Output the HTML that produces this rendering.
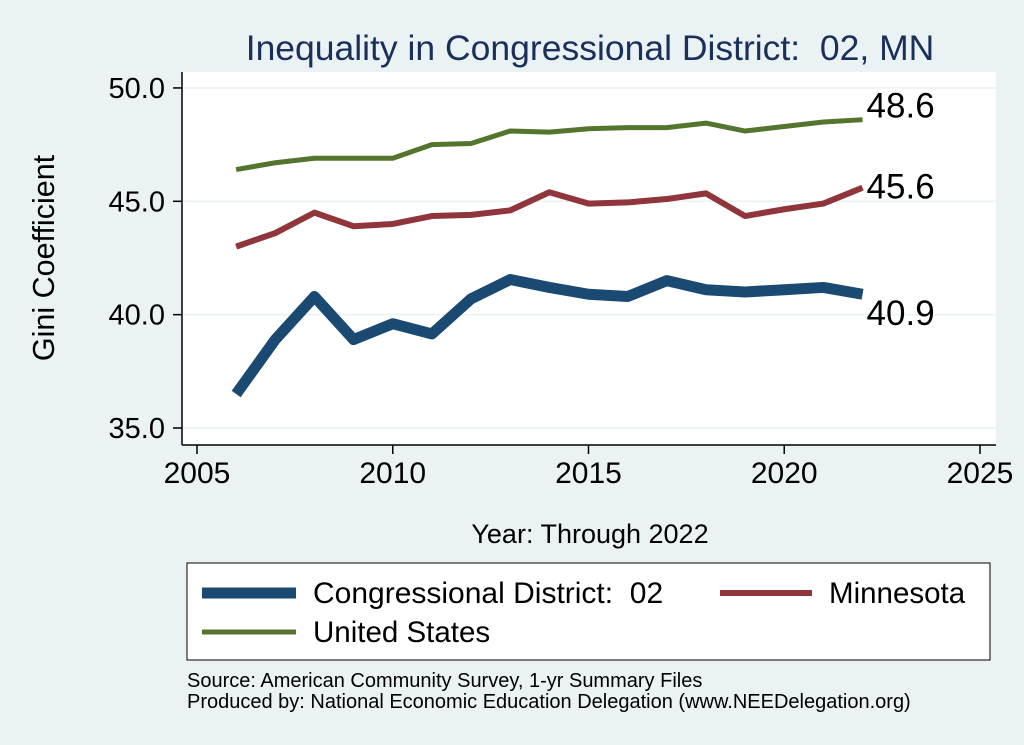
<!DOCTYPE html>
<html><head><meta charset="utf-8"><style>
body{margin:0;background:#eaf2f3;}
svg{display:block;font-family:"Liberation Sans",sans-serif;}
</style></head><body>
<svg id="c" width="1024" height="745">
<rect x="0" y="0" width="1024" height="745" fill="#eaf2f3"/>
<rect x="182" y="72" width="814" height="373" fill="#fff"/>
<text x="590" y="60" font-size="35.5" fill="#1a2f5a" text-anchor="middle">Inequality in Congressional District:&#160; 02, MN</text>
<g id="grid"></g><g id="axes"></g><g id="series"></g>
<text transform="translate(54,258) rotate(-90)" font-size="30.5" text-anchor="middle">Gini Coefficient</text>
<text x="590" y="543" font-size="27" text-anchor="middle">Year: Through 2022</text>
<g>
<rect x="187" y="563" width="803" height="97" fill="#fff" stroke="#000" stroke-width="1"/>
<line x1="202" y1="593" x2="296" y2="593" stroke="#1a4a72" stroke-width="11"/>
<text x="313" y="603" font-size="30">Congressional District:&#160; 02</text>
<line x1="720" y1="593" x2="812" y2="593" stroke="#90353b" stroke-width="6"/>
<text x="829" y="603" font-size="29.5">Minnesota</text>
<line x1="202" y1="632" x2="296" y2="632" stroke="#55752f" stroke-width="5"/>
<text x="313" y="642" font-size="29.5">United States</text>
</g>
<text x="187" y="687" font-size="20">Source: American Community Survey, 1-yr Summary Files</text>
<text x="187" y="708" font-size="20">Produced by: National Economic Education Delegation (www.NEEDelegation.org)</text>
</svg>
<script>
const years=[2006,2007,2008,2009,2010,2011,2012,2013,2014,2015,2016,2017,2018,2019,2020,2021,2022];
const cd02=[36.5,38.9,40.8,38.9,39.6,39.15,40.7,41.55,41.2,40.9,40.8,41.5,41.1,41.0,41.1,41.2,40.9];
const mn=[43.0,43.6,44.5,43.9,44.0,44.35,44.4,44.6,45.4,44.9,44.95,45.1,45.35,44.35,44.65,44.9,45.6];
const us=[46.4,46.7,46.9,46.9,46.9,47.5,47.55,48.1,48.05,48.2,48.25,48.25,48.45,48.1,48.3,48.5,48.6];
const yTicks=[35,40,45,50];
const xTicks=[2005,2010,2015,2020,2025];
const NS="http://www.w3.org/2000/svg";
const X=v=>197+(v-2005)*39.15;
const Y=v=>428-(v-35)*22.67;
function mk(tag,attrs,parent){const e=document.createElementNS(NS,tag);for(const k in attrs)e.setAttribute(k,attrs[k]);document.getElementById(parent).appendChild(e);return e;}
yTicks.forEach(t=>{
 const g=mk('line',{x1:182,x2:996,y1:Y(t),y2:Y(t),stroke:'#eaf2f3','stroke-width':1.5},'grid');
 
 
 const tk=mk('line',{x1:173,x2:182,y1:Y(t),y2:Y(t),stroke:'#000','stroke-width':1.5},'axes');
 
 
 const l=mk('text',{x:165,y:Y(t)+10,'font-size':29,'text-anchor':'end'},'axes');
 l.textContent=t.toFixed(1);
 
 
});
xTicks.forEach(t=>{
 const tk=mk('line',{x1:X(t),x2:X(t),y1:445,y2:454,stroke:'#000','stroke-width':1.5},'axes');
 
 
 const l=mk('text',{x:X(t),y:483,'font-size':30,'text-anchor':'middle'},'axes');
 l.textContent=t;
 
 
});
const ya=mk('line',{x1:182,x2:182,y1:72,y2:445,stroke:'#000','stroke-width':1.5},'axes');


const xa=mk('line',{x1:182,x2:996,y1:445,y2:445,stroke:'#000','stroke-width':1.5},'axes');


function line(vals,color,w,name,dy){
 const p=mk('polyline',{points:vals.map((v,i)=>X(years[i])+','+Y(v)).join(' '),fill:'none',stroke:color,'stroke-width':w,'stroke-linejoin':'round'},'series');
 
 
 const last=vals[vals.length-1];
 const l=mk('text',{x:X(years[years.length-1])+4,y:Y(last)+dy,'font-size':35},'series');
 l.textContent=last.toFixed(1);
 
 
}
line(us,'#55752f',5,'line-us',-2);
line(mn,'#90353b',6,'line-mn',11);
line(cd02,'#1a4a72',11,'line-cd02',31);
</script>
</body></html>
